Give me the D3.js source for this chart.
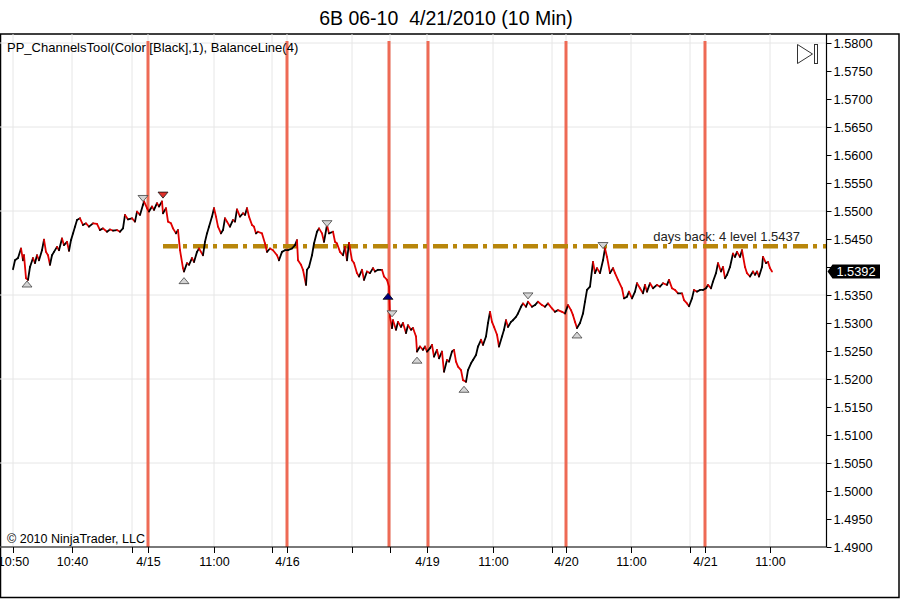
<!DOCTYPE html>
<html>
<head>
<meta charset="utf-8">
<script src="https://cdn.jsdelivr.net/npm/d3@7"></script>
<style>
  body { margin: 0; background: #fff; }
  svg { display: block; font-family: Arial, "Liberation Sans", sans-serif; }
  .tick text { font-family: Arial, "Liberation Sans", sans-serif; }
</style>
</head>
<body>
<svg id="chart" width="901" height="599"></svg>
<script>
// 10 minute bars, bar number since the first bar on screen
const bar_index = [
  0, 2, 5, 8, 10, 11, 13, 15, 17, 20, 22, 24, 26, 29, 31, 33, 35, 37, 39, 41,
  44, 46, 49, 51, 54, 56, 58, 60, 62, 64, 67, 70, 73, 76, 80, 84, 87, 90, 94, 97,
  100, 104, 107, 110, 112, 115, 119, 122, 124, 127, 130, 131, 134, 136, 139, 141, 144, 146, 149, 150,
  153, 155, 158, 160, 163, 165, 167, 170, 171, 174, 176, 179, 181, 184, 186, 190, 192, 194, 196, 199,
  201, 203, 205, 208, 210, 212, 214, 217, 220, 222, 224, 227, 230, 232, 234, 236, 239, 241, 243, 245,
  249, 252, 254, 257, 260, 264, 266, 269, 272, 275, 279, 282, 284, 285, 288, 290, 293, 294, 296, 299,
  301, 304, 306, 309, 311, 314, 316, 320, 322, 324, 327, 330, 332, 334, 336, 339, 341, 344, 346, 349,
  351, 354, 357, 360, 362, 365, 369, 371, 374, 376, 377, 379, 380, 383, 385, 388, 390, 393, 395, 398,
  400, 403, 404, 407, 410, 412, 414, 417, 419, 421, 424, 426, 429, 431, 434, 436, 439, 441, 443, 445,
  448, 450, 453, 455, 458, 460, 463, 465, 468, 470, 473, 475, 477, 479, 481, 484, 486, 489, 491, 493,
  495, 498, 500, 503, 505, 508, 510, 513, 515, 519, 522, 525, 529, 532, 535, 539, 542, 545, 549, 552,
  555, 558, 560, 562, 564, 567, 570, 572, 574, 577, 580, 582, 584, 587, 590, 592, 594, 597, 600, 602,
  605, 609, 611, 614, 616, 619, 622, 624, 627, 630, 632, 634, 637, 640, 644, 647, 650, 654, 656, 659,
  662, 665, 669, 671, 674, 676, 679, 681, 684, 687, 690, 693, 695, 698, 700, 703, 705, 708, 710, 712,
  714, 717, 720, 722, 724, 727, 729, 732, 734, 737, 740, 742, 744, 746, 749, 750, 753, 755, 757, 759
];

const close_price = [
  1.5396, 1.5412, 1.5416, 1.5433, 1.5412, 1.5421, 1.5380, 1.5377, 1.5400, 1.5416, 1.5407, 1.5421, 1.5412, 1.5430, 1.5449, 1.5427, 1.5421, 1.5404, 1.5421, 1.5427,
  1.5436, 1.5430, 1.5451, 1.5439, 1.5445, 1.5429, 1.5448, 1.5460, 1.5472, 1.5484, 1.5487, 1.5475, 1.5478, 1.5472, 1.5478, 1.5477, 1.5466, 1.5469, 1.5463, 1.5467,
  1.5465, 1.5466, 1.5463, 1.5469, 1.5493, 1.5485, 1.5487, 1.5481, 1.5499, 1.5493, 1.5511, 1.5517, 1.5505, 1.5499, 1.5508, 1.5502, 1.5514, 1.5508, 1.5517, 1.5496,
  1.5505, 1.5481, 1.5478, 1.5469, 1.5460, 1.5466, 1.5430, 1.5398, 1.5392, 1.5407, 1.5404, 1.5416, 1.5409, 1.5427, 1.5433, 1.5421, 1.5445, 1.5460, 1.5472, 1.5490,
  1.5505, 1.5490, 1.5472, 1.5460, 1.5466, 1.5487, 1.5481, 1.5472, 1.5484, 1.5481, 1.5503, 1.5490, 1.5496, 1.5493, 1.5505, 1.5490, 1.5475, 1.5472, 1.5460, 1.5463,
  1.5460, 1.5442, 1.5427, 1.5433, 1.5430, 1.5421, 1.5412, 1.5427, 1.5430, 1.5430, 1.5433, 1.5439, 1.5448, 1.5412, 1.5404, 1.5395, 1.5368, 1.5395, 1.5400, 1.5421,
  1.5442, 1.5463, 1.5469, 1.5460, 1.5445, 1.5475, 1.5460, 1.5463, 1.5445, 1.5442, 1.5427, 1.5421, 1.5436, 1.5412, 1.5443, 1.5412, 1.5407, 1.5389, 1.5383, 1.5395,
  1.5377, 1.5392, 1.5389, 1.5398, 1.5392, 1.5395, 1.5395, 1.5383, 1.5377, 1.5365, 1.5311, 1.5291, 1.5305, 1.5288, 1.5302, 1.5293, 1.5300, 1.5282, 1.5296, 1.5288,
  1.5291, 1.5276, 1.5249, 1.5258, 1.5252, 1.5258, 1.5249, 1.5255, 1.5261, 1.5240, 1.5252, 1.5237, 1.5249, 1.5213, 1.5234, 1.5231, 1.5249, 1.5252, 1.5231, 1.5222,
  1.5216, 1.5198, 1.5195, 1.5216, 1.5228, 1.5234, 1.5243, 1.5258, 1.5270, 1.5261, 1.5276, 1.5300, 1.5320, 1.5302, 1.5293, 1.5279, 1.5258, 1.5276, 1.5288, 1.5305,
  1.5293, 1.5302, 1.5305, 1.5311, 1.5317, 1.5329, 1.5335, 1.5329, 1.5338, 1.5329, 1.5332, 1.5338, 1.5332, 1.5329, 1.5335, 1.5326, 1.5320, 1.5323, 1.5320, 1.5317,
  1.5332, 1.5323, 1.5314, 1.5302, 1.5291, 1.5300, 1.5317, 1.5338, 1.5359, 1.5365, 1.5409, 1.5389, 1.5398, 1.5389, 1.5412, 1.5433, 1.5418, 1.5389, 1.5398, 1.5389,
  1.5377, 1.5362, 1.5344, 1.5347, 1.5356, 1.5344, 1.5356, 1.5371, 1.5362, 1.5353, 1.5368, 1.5356, 1.5371, 1.5362, 1.5368, 1.5365, 1.5371, 1.5368, 1.5377, 1.5362,
  1.5359, 1.5353, 1.5353, 1.5341, 1.5335, 1.5330, 1.5344, 1.5359, 1.5356, 1.5359, 1.5359, 1.5362, 1.5368, 1.5362, 1.5374, 1.5389, 1.5407, 1.5392, 1.5400, 1.5380,
  1.5386, 1.5400, 1.5424, 1.5418, 1.5427, 1.5418, 1.5430, 1.5400, 1.5389, 1.5383, 1.5392, 1.5386, 1.5392, 1.5383, 1.5400, 1.5418, 1.5407, 1.5409, 1.5398, 1.5392
];

// swing points found by the channels tool
const swing_bars = [14, 130, 150, 171, 314, 375, 379, 404, 451, 515, 564, 590];
const swing_prices = [1.5375, 1.5517, 1.5523, 1.5381, 1.5472, 1.5353, 1.5311, 1.5239, 1.5187, 1.5343, 1.5284, 1.5433];
const swing_kinds = ["low", "high", "high", "low", "high", "low", "high", "low", "low", "high", "low", "high"];
const swing_colors = ["#d4d4d4", "#d4d4d4", "#e0302a", "#d4d4d4", "#d4d4d4", "#000080", "#d4d4d4", "#d4d4d4", "#d4d4d4", "#d4d4d4", "#d4d4d4", "#d4d4d4"];

// session starts
const session_bars = [135, 274, 376, 415, 553, 692];

const time_ticks = [0, 59, 119, 135, 201, 259, 274, 339, 377, 414, 480, 539, 553, 618, 677, 692, 757];
const time_labels = ["10:50", "10:40", "", "4/15", "11:00", "", "4/16", "", "", "4/19", "11:00", "", "4/20", "11:00", "", "4/21", "11:00"];

const price_ticks = [1.49, 1.495, 1.50, 1.505, 1.51, 1.515, 1.52, 1.525, 1.53, 1.535, 1.54, 1.545,
                     1.55, 1.555, 1.56, 1.565, 1.57, 1.575, 1.58];
const price_grid = [1.49, 1.505, 1.52, 1.535, 1.55, 1.565, 1.58];

const balance_start = 150;
const balance_level = 1.5437;
const last_price = 1.5392;

const title_text = "6B 06-10  4/21/2010 (10 Min)";
const indicator_text = "PP_ChannelsTool(Color [Black],1), BalanceLine(4)";
const balance_text = "days back: 4 level 1.5437";
const copyright_text = "\u00a9 2010 NinjaTrader, LLC";

const plot_left = 0;
const plot_right = 826.5;
const plot_top = 34;
const plot_bottom = 547;

function draw() {

    const svg = d3.select("#chart");

    const xScale = d3.scaleLinear()
        .domain([0, 100])
        .range([13, 113]);

    const yScale = d3.scaleLinear()
        .domain([1.49, 1.58])
        .range([plot_bottom, 43]);

    // title
    svg.append("text")
        .attr("x", 446)
        .attr("y", 25)
        .attr("text-anchor", "middle")
        .style("font-size", "19.5px")
        .style("white-space", "pre")
        .text(title_text);

    // outer frame
    svg.append("rect")
        .attr("x", 0.5)
        .attr("y", 34)
        .attr("width", 898.5)
        .attr("height", 563.5)
        .attr("fill", "none")
        .attr("stroke", "#000")
        .attr("stroke-width", 1.5);

    // grid
    const grid = svg.append("g");

    grid.selectAll(".vgrid")
        .data(time_ticks)
        .join("line")
        .classed("vgrid", true)
        .attr("x1", d => xScale(d))
        .attr("x2", d => xScale(d))
        .attr("y1", plot_top)
        .attr("y2", plot_bottom)
        .attr("stroke", "#e6e6e6");

    grid.selectAll(".hgrid")
        .data(price_grid)
        .join("line")
        .classed("hgrid", true)
        .attr("x1", plot_left)
        .attr("x2", plot_right)
        .attr("y1", d => yScale(d))
        .attr("y2", d => yScale(d))
        .attr("stroke", "#e6e6e6");

    // session separators
    svg.selectAll(".session")
        .data(session_bars)
        .join("line")
        .classed("session", true)
        .attr("x1", d => xScale(d))
        .attr("x2", d => xScale(d))
        .attr("y1", 41)
        .attr("y2", plot_bottom)
        .attr("stroke", "#ee6a55")
        .attr("stroke-width", 3);

    // balance line
    svg.append("line")
        .attr("x1", xScale(balance_start))
        .attr("x2", plot_right)
        .attr("y1", yScale(balance_level))
        .attr("y2", yScale(balance_level))
        .attr("stroke", "#b8860b")
        .attr("stroke-width", 4.5)
        .attr("stroke-dasharray", "15,5,4,6");

    svg.append("text")
        .attr("x", 800)
        .attr("y", yScale(balance_level) - 5)
        .attr("text-anchor", "end")
        .style("font-size", "13px")
        .attr("fill", "#222")
        .text(balance_text);

    // price series, red on the way down, black on the way up
    const pts = bar_index.map((b, i) => [xScale(b), yScale(close_price[i]), close_price[i]]);
    const segs = d3.pairs(pts);

    svg.append("g")
        .selectAll("line")
        .data(segs)
        .join("line")
        .attr("x1", d => d[0][0])
        .attr("y1", d => d[0][1])
        .attr("x2", d => d[1][0])
        .attr("y2", d => d[1][1])
        .attr("stroke", d => (d[1][2] < d[0][2]) ? "#e00000" : "#000")
        .attr("stroke-width", 1.8)
        .attr("stroke-linecap", "round");

    // swing markers
    const swings = swing_bars.map((b, i) => ({
        x: xScale(b), y: yScale(swing_prices[i]), kind: swing_kinds[i], fill: swing_colors[i]
    }));

    svg.append("g")
        .selectAll("path")
        .data(swings)
        .join("path")
        .attr("d", d => d.kind == "high"
            ? "M" + (d.x - 5) + "," + (d.y - 6) + "L" + (d.x + 5) + "," + (d.y - 6) + "L" + d.x + "," + d.y + "Z"
            : "M" + (d.x - 5) + "," + (d.y + 6) + "L" + (d.x + 5) + "," + (d.y + 6) + "L" + d.x + "," + d.y + "Z")
        .attr("fill", d => d.fill)
        .attr("stroke", d => d.fill == "#d4d4d4" ? "#444" : "#111")
        .attr("stroke-width", 0.8);

    // price axis; the label under the last price tag is hidden as in the platform
    const yAxis = svg.append("g")
        .attr("transform", "translate(" + plot_right + ",0)")
        .call(d3.axisRight(yScale)
            .tickValues(price_ticks)
            .tickSize(5)
            .tickSizeOuter(0)
            .tickPadding(2)
            .tickFormat(d => Math.abs(yScale(d) - yScale(last_price)) < 12 ? "" : d3.format(".4f")(d)));

    yAxis.select(".domain").remove();
    yAxis.selectAll(".tick text")
        .style("font-size", "12.8px")
        .attr("fill", "#000");

    // time axis
    const xAxis = svg.append("g")
        .attr("transform", "translate(0," + plot_bottom + ")")
        .call(d3.axisBottom(xScale)
            .tickValues(time_ticks)
            .tickSize(6)
            .tickSizeOuter(0)
            .tickPadding(4)
            .tickFormat((d, i) => time_labels[i]));

    xAxis.select(".domain").remove();
    xAxis.selectAll(".tick text")
        .style("font-size", "12.5px")
        .attr("fill", "#000");

    svg.append("line")
        .attr("x1", plot_left)
        .attr("x2", plot_right)
        .attr("y1", plot_bottom)
        .attr("y2", plot_bottom)
        .attr("stroke", "#000")
        .attr("stroke-width", 1.2);

    svg.append("line")
        .attr("x1", plot_right)
        .attr("x2", plot_right)
        .attr("y1", plot_top)
        .attr("y2", plot_bottom)
        .attr("stroke", "#000")
        .attr("stroke-width", 1.2);

    // last price tag
    const ly = yScale(last_price);
    svg.append("path")
        .attr("d", "M" + (plot_right + 1) + "," + ly
            + "L" + (plot_right + 6) + "," + (ly - 7)
            + "L" + 880 + "," + (ly - 7)
            + "L" + 880 + "," + (ly + 7)
            + "L" + (plot_right + 6) + "," + (ly + 7) + "Z")
        .attr("fill", "#000");

    svg.append("text")
        .attr("x", 856)
        .attr("y", ly + 4.5)
        .attr("text-anchor", "middle")
        .attr("fill", "#fff")
        .style("font-size", "12.8px")
        .text(d3.format(".4f")(last_price));

    // texts inside the panel
    svg.append("text")
        .attr("x", 7)
        .attr("y", 52)
        .style("font-size", "13px")
        .text(indicator_text);

    svg.append("text")
        .attr("x", 7)
        .attr("y", 543)
        .style("font-size", "12.5px")
        .text(copyright_text);

    // scroll-to-end button
    svg.append("path")
        .attr("d", "M797.5,44.5L812.5,54L797.5,63.5Z")
        .attr("fill", "#fff")
        .attr("stroke", "#333");

    svg.append("rect")
        .attr("x", 814.5)
        .attr("y", 44.5)
        .attr("width", 3)
        .attr("height", 19)
        .attr("fill", "#fff")
        .attr("stroke", "#333");

}

draw();
</script>
</body>
</html>
